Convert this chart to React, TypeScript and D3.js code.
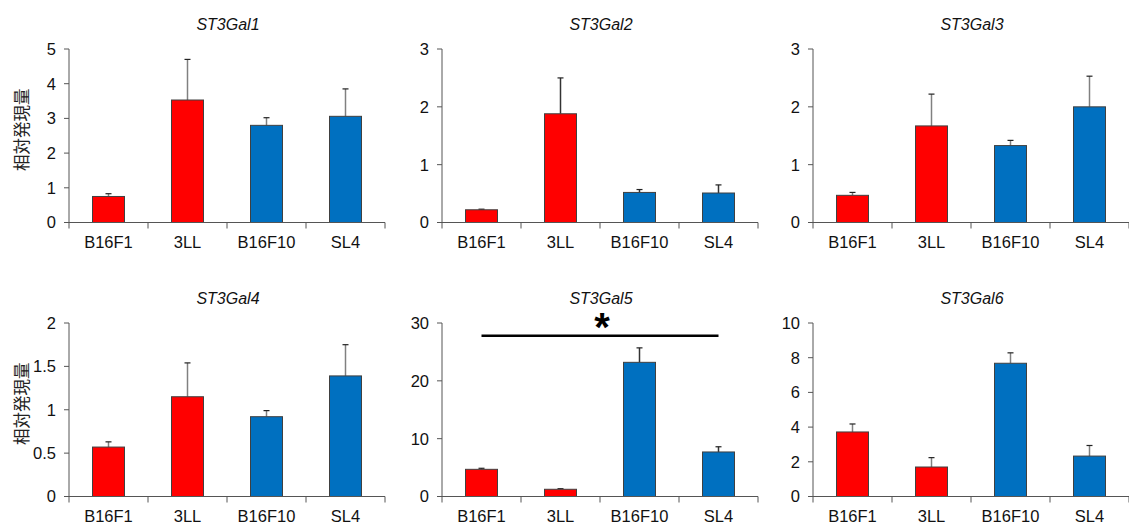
import React from "react";
import * as d3 from "d3";

const categories = ["B16F1", "3LL", "B16F10", "SL4"];
const barColors = ["#FF0000", "#FF0000", "#0070C0", "#0070C0"];
const titles = ["ST3Gal1", "ST3Gal2", "ST3Gal3", "ST3Gal4", "ST3Gal5", "ST3Gal6"];
const yMax = [5, 3, 3, 2, 30, 10];
const yTicks = [
  [0, 1, 2, 3, 4, 5],
  [0, 1, 2, 3],
  [0, 1, 2, 3],
  [0, 0.5, 1, 1.5, 2],
  [0, 10, 20, 30],
  [0, 2, 4, 6, 8, 10],
];
const means = [
  [0.75, 3.53, 2.8, 3.06],
  [0.22, 1.88, 0.52, 0.51],
  [0.47, 1.67, 1.33, 2.0],
  [0.57, 1.15, 0.92, 1.39],
  [4.7, 1.25, 23.2, 7.7],
  [3.72, 1.7, 7.68, 2.33],
];
const errTops = [
  [0.83, 4.7, 3.02, 3.85],
  [0.23, 2.5, 0.57, 0.65],
  [0.52, 2.22, 1.42, 2.53],
  [0.63, 1.54, 0.99, 1.75],
  [4.88, 1.35, 25.7, 8.6],
  [4.18, 2.24, 8.28, 2.94],
];
const yLabel = "相対発現量";

const panelX = [69, 442, 813];
const rowTop = [49, 323];
const plotW = 316;
const plotH = 173.5;
const errColors = ["#808080", "#333333", "#808080", "#808080", "#333333", "#808080"];

function Panel({ idx }: { idx: number }) {
  const col = idx % 3;
  const row = Math.floor(idx / 3);
  const x0 = panelX[col];
  const y0 = rowTop[row];
  const x = d3.scaleBand<string>().domain(categories).range([0, plotW]).paddingInner(0.595).paddingOuter(0.2975);
  const y = d3.scaleLinear().domain([0, yMax[idx]]).range([plotH, 0]);
  const step = x.step();
  const bw = x.bandwidth();
  const fontFam = "'Liberation Sans', Arial, sans-serif";
  return (
    <g transform={`translate(${x0},${y0})`}>
      <text x={plotW / 2 + 1} y={-19} textAnchor="middle" fontStyle="italic" fontSize={16} fontFamily={fontFam} fill="#111">
        {titles[idx]}
      </text>
      {categories.map((c, i) => {
        const bx = x(c)!;
        const cx = bx + bw / 2;
        return (
          <g key={c}>
            <line x1={cx} x2={cx} y1={y(means[idx][i])} y2={y(errTops[idx][i])} stroke={errColors[idx]} strokeWidth={1.5} />
            <line x1={cx - 3} x2={cx + 3} y1={y(errTops[idx][i])} y2={y(errTops[idx][i])} stroke="#222" strokeWidth={1.2} />
            <rect x={bx} y={y(means[idx][i])} width={bw} height={plotH - y(means[idx][i])} fill={barColors[i]} stroke="#404040" strokeWidth={1} />
          </g>
        );
      })}
      <line x1={0} x2={0} y1={0} y2={plotH} stroke="#555" strokeWidth={1} />
      {yTicks[idx].map((t) => (
        <g key={t} transform={`translate(0,${y(t)})`}>
          <line x1={-5} x2={0} y1={0} y2={0} stroke="#555" strokeWidth={1} />
          <text x={-13} y={0} dy="0.36em" textAnchor="end" fontSize={16.5} fontFamily={fontFam} fill="#111">
            {t}
          </text>
        </g>
      ))}
      <line x1={0} x2={plotW} y1={plotH} y2={plotH} stroke="#555" strokeWidth={1} />
      {d3.range(categories.length + 1).map((i) => (
        <line key={i} x1={i * step} x2={i * step} y1={plotH} y2={plotH + 6} stroke="#555" strokeWidth={1} />
      ))}
      {categories.map((c) => (
        <text key={c} x={x(c)! + bw / 2} y={plotH + 25} textAnchor="middle" fontSize={16.5} fontFamily={fontFam} fill="#111">
          {c}
        </text>
      ))}
      {col === 0 && (
        <text
          transform={`translate(${-47},${plotH / 2 - 6}) rotate(-90)`}
          textAnchor="middle"
          dy="0.35em"
          fontSize={16.5}
          fontFamily="'Noto Sans CJK JP', sans-serif"
          fill="#222"
        >
          {yLabel}
        </text>
      )}
      {idx === 4 && (
        <g>
          <line x1={x("B16F1")! + bw / 2} x2={x("SL4")! + bw / 2} y1={y(27.8)} y2={y(27.8)} stroke="#000" strokeWidth={2.5} />
          <text x={(x("3LL")! + x("B16F10")! + bw) / 2 + 2} y={y(27.8) + 5} textAnchor="middle" fontSize={40} fontWeight="bold" fontFamily={fontFam} fill="#000">
            *
          </text>
        </g>
      )}
    </g>
  );
}

export default function App() {
  return (
    <svg width={1129} height={525} style={{ position: "absolute", left: 0, top: 0, background: "#fff" }}>
      <rect width={1129} height={525} fill="#fff" />
      {d3.range(6).map((i) => (
        <Panel key={i} idx={i} />
      ))}
    </svg>
  );
}
